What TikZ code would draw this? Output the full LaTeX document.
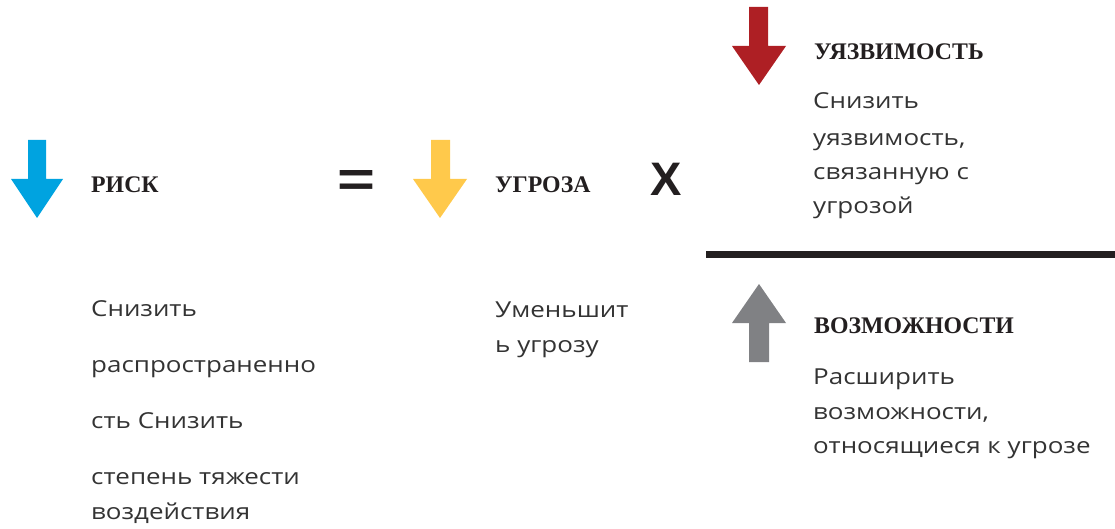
\documentclass[tikz,border=0pt]{standalone}
\usepackage{fontspec}
\setmainfont{Liberation Serif}
\newfontfamily\bodyfont[FakeStretch=1.18]{Open Sans}
\newfontfamily\opfont{Liberation Sans}
\newfontfamily\eqfont[FakeStretch=1.3]{Liberation Sans}
\definecolor{cblue}{RGB}{0,163,224}
\definecolor{cyellow}{RGB}{255,201,75}
\definecolor{cred}{RGB}{174,31,36}
\definecolor{cgray}{RGB}{128,129,132}
\definecolor{ctext}{RGB}{51,51,51}
\definecolor{chead}{RGB}{35,31,32}
\begin{document}
\begin{tikzpicture}[x=1pt,y=-1pt,
  head/.style={anchor=base west,inner sep=0pt,text=chead,font=\fontsize{23.8}{24}\selectfont\bfseries},
  body/.style={anchor=base west,inner sep=0pt,text=ctext,font=\bodyfont\fontsize{22}{22}\selectfont},
  op/.style={anchor=base,inner sep=0pt,text=chead,font=\opfont\fontsize{47}{47}\selectfont\bfseries}]
\useasboundingbox (0,0) rectangle (1115,529);
% arrows
\fill[cblue] (28,140) -- (46,140) -- (46,179) -- (63,179) -- (37,218) -- (11,179) -- (28,179) -- cycle;
\fill[cyellow] (431,140) -- (450,140) -- (450,179) -- (467,179) -- (440,218) -- (413,179) -- (431,179) -- cycle;
\fill[cred] (749,7) -- (768,7) -- (768,46) -- (786,46) -- (759,85) -- (732,46) -- (749,46) -- cycle;
\fill[cgray] (749,362) -- (769,362) -- (769,323) -- (786,323) -- (759,284) -- (732,323) -- (749,323) -- cycle;
% rule
\fill[chead] (706,251) rectangle (1115,258);
% headings
\node[head] (risk) at (91,193) {РИСК};
\node[head] (threat) at (495,193) {УГРОЗА};
\node[head] (vuln) at (814,60) {УЯЗВИМОСТЬ};
\node[head] (cap) at (814,333) {ВОЗМОЖНОСТИ};
% operators
\node[op,font=\eqfont\fontsize{50}{50}\selectfont\bfseries] (eq) at (356,197) {=};
\node[op] (times) at (666,196) {X};
% body texts
\node[body] (r1) at (91,316) {Снизить};
\node[body] (r2) at (91,372) {распространенно};
\node[body] (r3) at (91,428) {сть Снизить};
\node[body] (r4) at (91,484) {степень тяжести};
\node[body] (r5) at (91,519) {воздействия};
\node[body] (t1) at (495,317) {Уменьшит};
\node[body] (t2) at (495,352) {ь угрозу};
\node[body] (v1) at (813,109) {Снизить};
\node[body] (v2) at (813,146) {уязвимость,};
\node[body] (v3) at (813,180) {связанную с};
\node[body] (v4) at (813,214) {угрозой};
\node[body] (c1) at (813,384) {Расширить};
\node[body] (c2) at (813,419) {возможности,};
\node[body] (c3) at (813,453) {относящиеся к угрозе};
\end{tikzpicture}
\end{document}
